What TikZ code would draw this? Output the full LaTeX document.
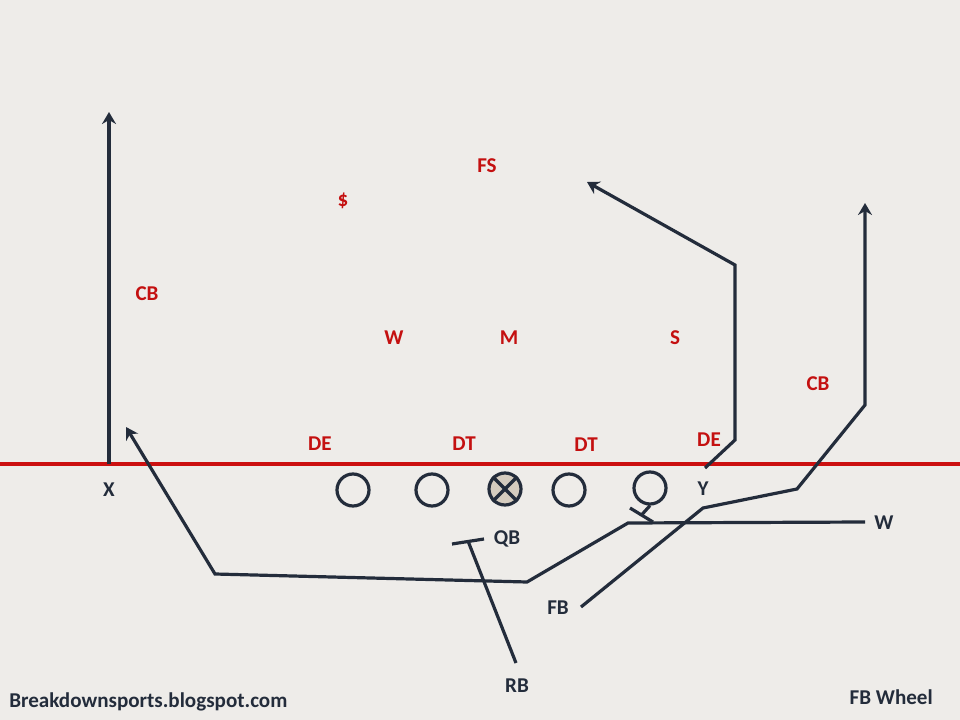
\documentclass[tikz,border=0pt]{standalone}
\usepackage{fontspec}
\setmainfont{Carlito}
\usetikzlibrary{arrows.meta}
\definecolor{bg}{HTML}{EEECE9}
\definecolor{navy}{HTML}{232C3B}
\definecolor{fieldred}{HTML}{CC1010}
\definecolor{txtred}{HTML}{C41010}
\definecolor{tan}{HTML}{D5CCBF}
\begin{document}
\begin{tikzpicture}[x=0.75pt,y=-0.75pt,
  route/.style={draw=navy,line width=2.4pt,line join=miter},
  arr/.style={-{Stealth[length=9pt,width=10.5pt,inset=3pt]}},
  deflab/.style={text=txtred,font=\bfseries\fontsize{15.8}{17}\selectfont,inner sep=0pt},
  offlab/.style={text=navy,font=\bfseries\fontsize{15.8}{17}\selectfont,inner sep=0pt},
  lineman/.style={circle,draw=navy,line width=2.4pt,minimum size=24pt,inner sep=0pt}]
\fill[bg] (0,0) rectangle (960,720);
\useasboundingbox (0,0) rectangle (960,720);

% line of scrimmage
\coordinate (losL) at (0,464);
\coordinate (losR) at (960,464);
\draw[fieldred,line width=2.6pt] (losL) -- (losR);

% defense
\node[deflab] (FS) at (487,166) {FS};
\node[deflab] (D) at (343,201) {\$};
\node[deflab] (CBL) at (147,294) {CB};
\node[deflab] (Wd) at (394,338) {W};
\node[deflab] (M) at (509,338) {M};
\node[deflab] (S) at (675,338) {S};
\node[deflab] (CBR) at (818,384) {CB};
\node[deflab] (DEL) at (320,444) {DE};
\node[deflab] (DTL) at (464,444) {DT};
\node[deflab] (DTR) at (586,445) {DT};
\node[deflab] (DER) at (709,440) {DE};

% offensive line
\node[lineman] (LT) at (353,490) {};
\node[lineman] (LG) at (432,490) {};
\node[lineman,fill=tan] (C) at (505,489) {};
\node[lineman] (RG) at (569,490) {};
\node[lineman] (RT) at (650,488) {};
\draw[navy,line width=2.4pt] (C.north west) -- (C.south east);
\draw[navy,line width=2.4pt] (C.north east) -- (C.south west);

% offensive labels
\node[offlab] (X) at (109,490) {X};
\node[offlab] (Y) at (703,489) {Y};
\node[offlab] (W) at (884,523) {W};
\node[offlab] (QB) at (507,539) {QB};
\node[offlab] (FB) at (558,608) {FB};
\node[offlab] (RB) at (517,686) {RB};
\node[offlab,anchor=west] (blog) at (9,702) {Breakdownsports.blogspot.com};
\node[offlab,anchor=east] (title) at (933,697) {FB Wheel};

% X route
\coordinate (xs) at (109,464);
\coordinate (xe) at (109,112);
\draw[route,arr] (xs) -- (xe);

% W route
\coordinate (ws) at (865,522);
\coordinate (w1) at (628,523);
\coordinate (w2) at (527,582);
\coordinate (w3) at (215,574);
\coordinate (we) at (126,427);
\draw[route,arr] (ws) -- (w1) -- (w2) -- (w3) -- (we);

% Y route
\coordinate (ys) at (705,468);
\coordinate (y1) at (735,440);
\coordinate (y2) at (735,265);
\coordinate (ye) at (587,182);
\draw[route,arr] (ys) -- (y1) -- (y2) -- (ye);

% FB route
\coordinate (fs) at (581,607);
\coordinate (f1) at (703,508);
\coordinate (f2) at (797,489);
\coordinate (f3) at (865,405);
\coordinate (fe) at (865,203);
\draw[route,arr] (fs) -- (f1) -- (f2) -- (f3) -- (fe);

% RB route with block
\coordinate (rs) at (516,663);
\coordinate (rt) at (468,541);
\coordinate (rb1) at (452,544);
\coordinate (rb2) at (484,539);
\draw[route] (rs) -- (rt);
\draw[route] (rb1) -- (rb2);

% RT block
\coordinate (tt) at (641.5,515);
\coordinate (tb1) at (630,508);
\coordinate (tb2) at (653,522);
\draw[route] (RT.south) -- (tt);
\draw[route] (tb1) -- (tb2);
\end{tikzpicture}
\end{document}
